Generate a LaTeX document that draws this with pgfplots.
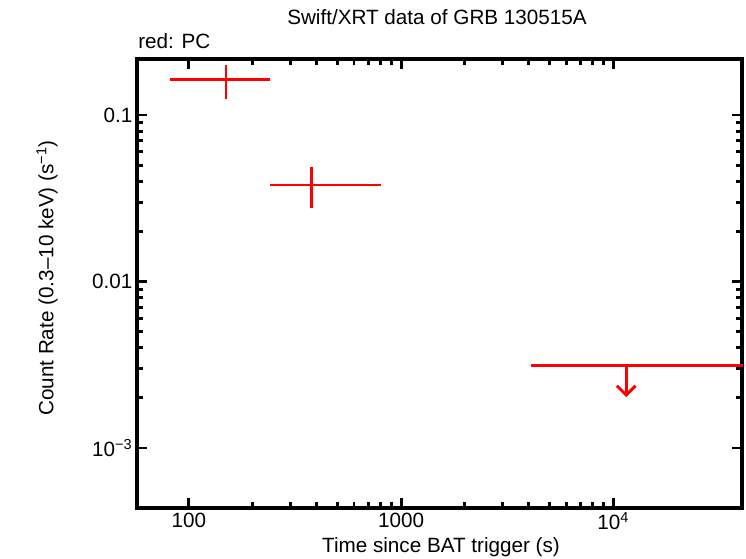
\documentclass[border=0pt]{standalone}
\usepackage{fontspec}
\setmainfont{Liberation Sans}
\usepackage{pgfplots}
\pgfplotsset{compat=1.18}
\usetikzlibrary{arrows.meta}

\newcommand{\lblfont}{\fontsize{15.5}{18}\selectfont}

\begin{document}
\begin{tikzpicture}
  % page frame = reference pixels (746 x 558) at 0.75pt per pixel
  \useasboundingbox (0,0) rectangle (559.5pt,418.5pt);

  \begin{axis}[
      at={(102.75pt,37.5pt)}, anchor=south west,
      scale only axis, width=453.75pt, height=336.75pt,
      xmode=log, ymode=log,
      xmin=56.9, xmax=40500, ymin=4.36e-4, ymax=0.217,
      axis line style={line width=2.3pt},
      major tick style={line width=2.2pt, black},
      minor tick style={line width=2.2pt, black},
      major tick length=7.5pt, minor tick length=4.5pt,
      tick align=inside,
      xtick={100,1000,10000}, xticklabels={100,1000,10\textsuperscript{4}},
      ytick={0.001,0.01,0.1}, yticklabels={10\textsuperscript{\textminus 3},0.01,0.1},
      ticklabel style={font=\lblfont},
      /pgf/number format/assume math mode=true,
      clip=false,
    ]
    % PC mode points: horizontal = time bin, vertical = rate error
    \addplot[red, line width=2.2pt] coordinates {(81.3,0.1644) (241,0.1644)};
    \addplot[red, line width=2.2pt] coordinates {(149.5,0.1248) (149.5,0.1996)};
    \addplot[red, line width=2.2pt] coordinates {(241,0.0380) (805,0.0380)};
    \addplot[red, line width=2.2pt] coordinates {(380,0.0276) (380,0.0488)};
    % upper limit
    \addplot[red, line width=2.2pt] coordinates {(4100,0.00315) (41000,0.00315)};
    \addplot[red, line width=2.2pt, -{Straight Barb[length=7pt,width=14pt,line width=2.2pt]}]
      coordinates {(11520,0.00315) (11520,0.00202)};
  \end{axis}

  \begin{scope}[x=0.75pt,y=0.75pt]
    \node[anchor=base, font=\lblfont] at (437,533) {Swift/XRT data of GRB 130515A};
    \node[anchor=base west, inner sep=0pt, font=\lblfont] at (138,509) {red: PC};
    \node[anchor=base, font=\lblfont] at (441,6) {Time since BAT trigger (s)};
    \node[rotate=90, font=\lblfont] at (47,280)
      {Count Rate (0.3\textendash 10 keV) (s\textsuperscript{\textminus 1})};
  \end{scope}
\end{tikzpicture}
\end{document}
